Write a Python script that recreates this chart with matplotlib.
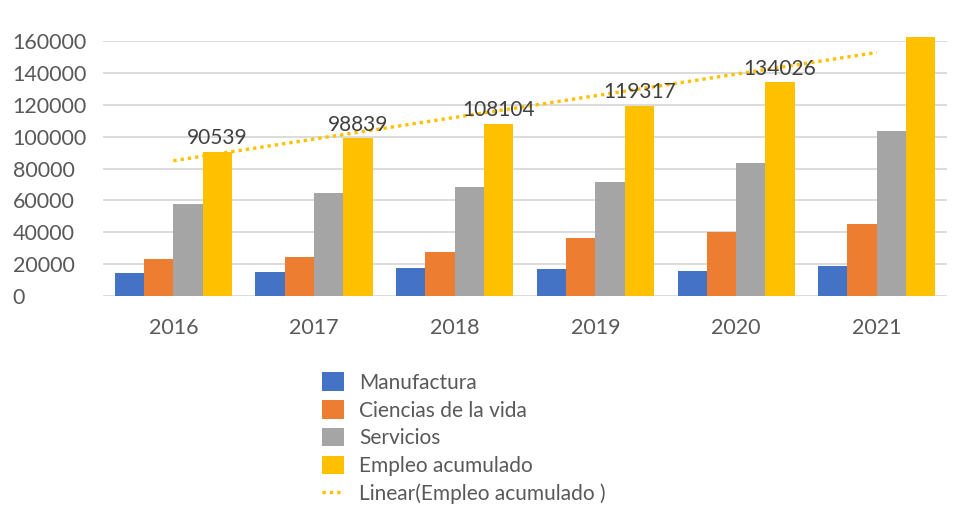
import matplotlib.pyplot as plt
import numpy as np

# Employment by sector, 2016-2021
years = ["2016", "2017", "2018", "2019", "2020", "2021"]
manufactura = [14700, 15300, 17400, 16800, 15900, 19100]
ciencias_vida = [23100, 24300, 27900, 36700, 40000, 45300]
servicios = [57700, 64600, 68100, 71300, 83400, 103300]
empleo_acumulado = [90539, 98839, 108104, 119317, 134026, 162238]

series_names = ["Manufactura", "Ciencias de la vida", "Servicios", "Empleo acumulado"]
colors = ["#4472C4", "#ED7D31", "#A5A5A5", "#FFC000"]
text_grey = "#595959"

plt.rcParams['font.family'] = ['Lato', 'DejaVu Sans']

fig = plt.figure(figsize=(9.57, 5.15), dpi=100)
ax = fig.add_axes([0.1076, 0.4252, 0.8820, 0.4952])

x = np.arange(len(years))
width = 0.208
all_series = [manufactura, ciencias_vida, servicios, empleo_acumulado]
handles = []
for i, (vals, name, col) in enumerate(zip(all_series, series_names, colors)):
    offs = (i - 1.5) * width
    bars = ax.bar(x + offs, vals, width, color=col, label=name, clip_on=False, zorder=3)
    handles.append(bars)

# value labels on the accumulated series
for xi, v in zip(x, empleo_acumulado):
    ax.annotate(str(v), (xi + 1.5 * width, v), xytext=(0, 10), textcoords="offset points",
                ha="center", va="center", fontsize=15, color="#404040", zorder=5)

# linear trendline of the accumulated series
coef = np.polyfit(x, empleo_acumulado, 1)
trend, = ax.plot(x, np.polyval(coef, x), color="#FFC000", linestyle=(0, (1, 1.2)),
                 linewidth=2.4, zorder=4, label="Linear(Empleo acumulado )")
handles.append(trend)

ax.set_xlim(-0.5, len(years) - 0.5)
ax.set_ylim(0, 160000)
ax.set_yticks(np.arange(0, 160001, 20000))
ax.set_xticks(x)
ax.set_xticklabels(years)
ax.grid(axis="y", color="#D9D9D9", linewidth=1.3, zorder=0)
for s in ax.spines.values():
    s.set_visible(False)
ax.tick_params(axis="both", length=0, colors=text_grey, labelsize=15.5)
ax.tick_params(axis="x", pad=16)
ax.tick_params(axis="y", pad=65)
for lbl in ax.get_yticklabels():
    lbl.set_horizontalalignment("left")

fig.legend(handles=handles, loc="upper left", bbox_to_anchor=(0.336, 0.277),
           frameon=False, fontsize=15, labelcolor=text_grey, handlelength=1.1,
           handleheight=1.0, handletextpad=0.7, labelspacing=0.35, borderpad=0,
           borderaxespad=0)

fig.savefig("out.png", dpi=100)
